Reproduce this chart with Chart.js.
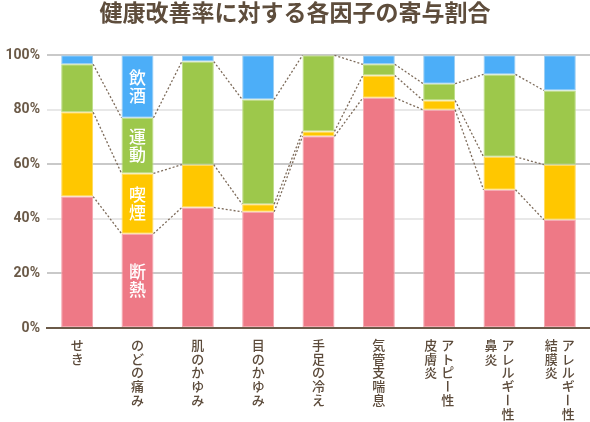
<!DOCTYPE html>
<html lang="ja">
<head>
<meta charset="utf-8">
<script src="https://cdn.jsdelivr.net/npm/chart.js@4"></script>
<style>
  html, body { margin: 0; padding: 0; background: #fff; }
  #wrap { width: 590px; height: 422px; }
</style>
</head>
<body>
<div id="wrap"><canvas id="chart-factor"></canvas></div>
<script>
// categories (vertical labels, columns read right to left)
var categories = [
  ['せき'], ['のどの痛み'], ['肌のかゆみ'], ['目のかゆみ'], ['手足の冷え'], ['気管支喘息'],
  ['アトピー性', '皮膚炎'], ['アレルギー性', '鼻炎'], ['アレルギー性', '結膜炎']
];
var factorNames = ['断熱', '喫煙', '運動', '飲酒'];

// percentages per factor
var insulation = [48.2, 34.6, 44.2, 42.6, 70.3, 84.4, 80.0, 50.7, 39.7];
var smoking    = [30.9, 22.1, 15.7,  2.8,  1.8,  8.2,  3.4, 12.1, 20.2];
var exercise   = [17.6, 20.4, 37.8, 38.4, 27.9,  4.1,  6.2, 30.2, 27.2];
var drinking   = [ 3.3, 22.9,  2.3, 16.2,  0.0,  3.3, 10.4,  7.0, 12.9];

var yTicks = [0, 20, 40, 60, 80, 100];

var textColor = "#6b5a48";
var fontJP = "'Noto Sans CJK JP', 'Noto Sans', sans-serif";

var seriesValues = [insulation, smoking, exercise, drinking];
var fillColors = ["#ee7986", "#ffc700", "#9dc84b", "#4caef8"];
var edgeColors = ["#f4a6ae", "#ffd95a", "#bcdc85", "#9ccdf0"];

// dotted lines joining segment tops of neighbouring bars
var connectorPlugin = {
  id: 'connectors',
  afterDatasetsDraw: function(chart) {
    var ctx = chart.ctx;
    ctx.save();
    ctx.strokeStyle = "#7d6b5a";
    ctx.lineWidth = 1.3;
    ctx.setLineDash([2, 2]);
    for (var d = 0; d < 3; d++) {
      var bars = chart.getDatasetMeta(d).data;
      for (var i = 0; i < bars.length - 1; i++) {
        var a = bars[i], b = bars[i + 1];
        ctx.beginPath();
        ctx.moveTo(a.x + a.width / 2, a.y);
        ctx.lineTo(b.x - b.width / 2, b.y);
        ctx.stroke();
      }
    }
    ctx.restore();
  }
};

function drawVertical(ctx, text, x, yTop, step) {
  var chars = Array.from(text);
  for (var i = 0; i < chars.length; i++) {
    var cy = yTop + step * i + step / 2;
    if (chars[i] === 'ー') {
      ctx.save();
      ctx.translate(x, cy);
      ctx.rotate(Math.PI / 2);
      ctx.fillText(chars[i], 0, 0);
      ctx.restore();
    } else {
      ctx.fillText(chars[i], x, cy);
    }
  }
}

// factor names inside the second bar + vertical category labels
var labelPlugin = {
  id: 'verticalLabels',
  afterDraw: function(chart) {
    var ctx = chart.ctx;
    ctx.save();
    ctx.textAlign = 'center';
    ctx.textBaseline = 'middle';

    ctx.fillStyle = "#fff";
    ctx.font = "500 17px " + fontJP;
    for (var d = 0; d < 4; d++) {
      var el = chart.getDatasetMeta(d).data[1];
      var name = factorNames[d];
      var step = 18;
      var mid = (el.y + el.base) / 2;
      drawVertical(ctx, name, el.x, mid - step * name.length / 2, step);
    }

    ctx.fillStyle = "#5b4a3a";
    ctx.font = "500 13px " + fontJP;
    var xScale = chart.scales.x;
    var top = chart.chartArea.bottom + 10;
    categories.forEach(function(cols, i) {
      var cx = xScale.getPixelForValue(i);
      var gap = 17;
      cols.forEach(function(col, c) {
        var x = cx + ((cols.length - 1) / 2 - c) * gap;
        drawVertical(ctx, col, x, top, 13.8);
      });
    });
    ctx.restore();
  }
};

var chartCtx = document.getElementById("chart-factor").getContext("2d");

var factorChart = new Chart(chartCtx, {
  type: 'bar',
  data: {
    labels: categories.map(function(c) { return c.join(''); }),
    datasets: seriesValues.map(function(vals, k) {
      return {
        label: factorNames[k],
        data: vals,
        backgroundColor: fillColors[k],
        borderColor: edgeColors[k],
        borderWidth: 1,
        borderSkipped: false,
        barPercentage: 0.53,
        categoryPercentage: 1
      };
    })
  },
  options: {
    responsive: true,
    maintainAspectRatio: false,
    animation: false,
    layout: {
      padding: { left: 0, right: 0, top: 0, bottom: 86 }
    },
    plugins: {
      legend: { display: false },
      tooltip: { enabled: false },
      title: {
        display: true,
        text: '健康改善率に対する各因子の寄与割合',
        color: "#5e4d3c",
        font: { family: fontJP, size: 23, weight: 'bold', lineHeight: 1.1 },
        padding: { top: 0, bottom: 30 }
      }
    },
    scales: {
      x: {
        stacked: true,
        grid: { display: false },
        border: { display: true, color: "#6b5a48", width: 2 },
        ticks: { display: false }
      },
      y: {
        stacked: true,
        min: 0,
        max: 100,
        afterBuildTicks: function(scale) {
          scale.ticks = yTicks.map(function(v) { return { value: v }; });
        },
        afterFit: function(scale) { scale.width = 47; },
        border: { display: false },
        grid: {
          drawTicks: false,
          lineWidth: 2,
          color: function(c) {
            var v = c.tick ? c.tick.value : 0;
            if (v === 0) return 'rgba(0,0,0,0)';
            return (v / 20) % 2 === 1 ? "#c9c9c9" : "#e8e8e8";
          }
        },
        ticks: {
          padding: 7,
          color: textColor,
          font: { family: "Roboto, sans-serif", size: 14, weight: 'bold' },
          callback: function(v) { return v + '%'; }
        }
      }
    }
  },
  plugins: [connectorPlugin, labelPlugin]
});
</script>
</body>
</html>
